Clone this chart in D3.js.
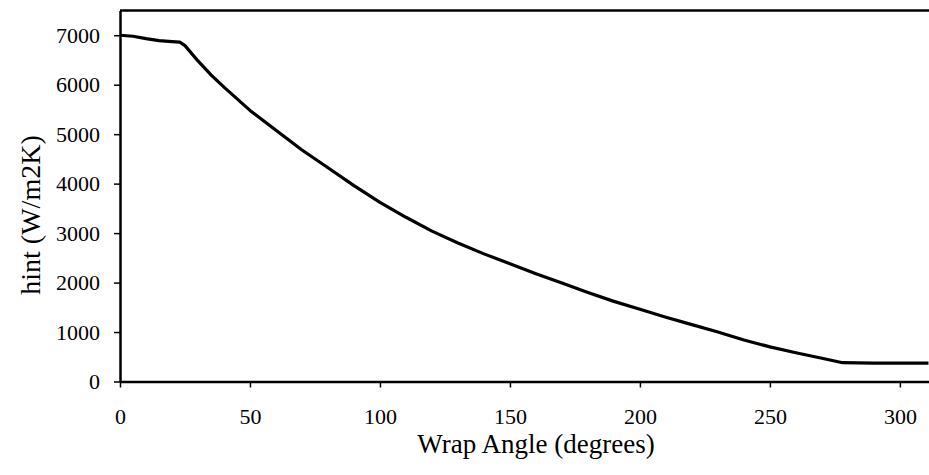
<!DOCTYPE html>
<html lang="en">
<head>
    <meta charset="UTF-8">
    <title>hint vs Wrap Angle</title>
    <script src="https://d3js.org/d3.v7.min.js"></script>
    <style>
        body {
            margin: 0;
            background: #fff;
        }
        svg text {
            font-family: "Liberation Serif", "Times New Roman", serif;
            fill: #000;
        }
    </style>
</head>
<body>
    <div id="chart"></div>

    <script>
        // Data
        var wrapAngle = [0, 5, 10, 15, 20, 23, 25, 30, 35, 40, 50, 60, 70, 80, 90, 100, 110, 120, 130, 140,
            150, 160, 170, 180, 190, 200, 210, 220, 230, 240, 250, 260, 270, 278, 290, 311];
        var hint = [7000, 6980, 6930, 6890, 6870, 6860, 6790, 6480, 6200, 5950, 5480, 5080, 4680, 4320, 3960, 3620, 3320, 3040, 2800, 2580,
            2380, 2180, 1990, 1800, 1620, 1460, 1300, 1150, 1000, 840, 700, 580, 470, 380, 370, 370];

        var xTicks = [0, 50, 100, 150, 200, 250, 300];
        var yTicks = [0, 1000, 2000, 3000, 4000, 5000, 6000, 7000];

        var serif = "'Liberation Serif', 'Times New Roman', serif";
        var width = 929,
            height = 475;

        var svg = d3.select("#chart")
            .append("svg")
            .attr("width", width)
            .attr("height", height);

        // Scales (plot is cut off on the right, just past 310 degrees)
        var x = d3.scaleLinear()
            .domain([0, 311.2])
            .range([120, 929]);

        var y = d3.scaleLinear()
            .domain([0, 7500])
            .range([381.5, 10.5]);

        // X axis
        var xAxis = svg.append("g")
            .attr("transform", "translate(0," + y(0) + ")")
            .call(d3.axisBottom(x)
                .tickValues(xTicks)
                .tickFormat(d3.format("d"))
                .tickSize(6)
                .tickSizeOuter(0)
                .tickPadding(21))
            .attr("font-family", serif)
            .attr("font-size", 22);

        // Y axis
        var yAxis = svg.append("g")
            .attr("transform", "translate(" + x(0) + ",0)")
            .call(d3.axisLeft(y)
                .tickValues(yTicks)
                .tickFormat(d3.format("d"))
                .tickSize(6)
                .tickSizeOuter(0)
                .tickPadding(14))
            .attr("font-family", serif)
            .attr("font-size", 22);

        svg.selectAll(".domain").attr("stroke", "#000").attr("stroke-width", 2.5);
        svg.selectAll(".tick line").attr("stroke", "#000").attr("stroke-width", 1.5);

        // Top frame line
        svg.append("line")
            .attr("x1", x(0))
            .attr("x2", x(311.2))
            .attr("y1", y(7500))
            .attr("y2", y(7500))
            .attr("stroke", "#000")
            .attr("stroke-width", 2.5);

        // Curve
        var pts = wrapAngle.map(function (a, i) { return [a, hint[i]]; });
        svg.append("path")
            .datum(pts)
            .attr("fill", "none")
            .attr("stroke", "#000")
            .attr("stroke-width", 3.2)
            .attr("stroke-linejoin", "round")
            .attr("d", d3.line()
                .x(function (d) { return x(d[0]); })
                .y(function (d) { return y(d[1]); }));

        // Axis titles
        svg.append("text")
            .attr("x", 536)
            .attr("y", 453)
            .attr("text-anchor", "middle")
            .style("font-size", "27px")
            .text("Wrap Angle (degrees)");

        svg.append("text")
            .attr("transform", "translate(40,215) rotate(-90)")
            .attr("text-anchor", "middle")
            .style("font-size", "28px")
            .text("hint (W/m2K)");
    </script>
</body>
</html>
